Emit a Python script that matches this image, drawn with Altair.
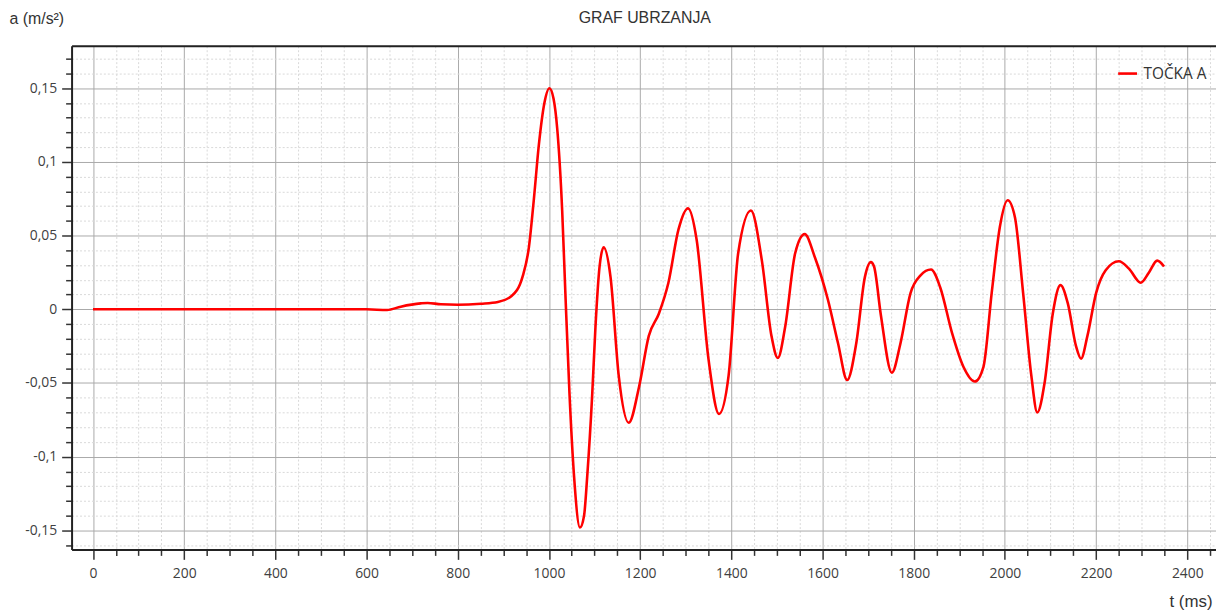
import altair as alt
import pandas as pd

# time (ms) and acceleration (m/s^2)
t_ms = [0, 300, 600, 645, 675, 719, 734, 763, 800, 851, 888, 918, 942, 956, 967, 978,
        990, 1001, 1010, 1018, 1029, 1036, 1045, 1055, 1068, 1077, 1084, 1095, 1102,
        1111, 1120, 1135, 1153, 1175, 1198, 1219, 1241, 1262, 1284, 1305, 1324, 1350,
        1373, 1394, 1415, 1443, 1467, 1488, 1502, 1518, 1540, 1561, 1583, 1612, 1634,
        1654, 1674, 1693, 1706, 1713, 1728, 1752, 1771, 1793, 1815, 1838, 1858, 1884,
        1909, 1934, 1953, 1971, 1989, 2006, 2022, 2040, 2058, 2071, 2087, 2105, 2122,
        2138, 2156, 2167, 2181, 2200, 2221, 2250, 2272, 2298, 2316, 2334, 2349]
acc = [0.0, 0.0, 0.0, -0.0005, 0.0018, 0.004, 0.0043, 0.0034, 0.0031, 0.0038, 0.005,
       0.009, 0.022, 0.042, 0.075, 0.112, 0.140, 0.150, 0.143, 0.123, 0.067, 0.011,
       -0.057, -0.113, -0.148, -0.140, -0.113, -0.057, -0.012, 0.029, 0.042, 0.022,
       -0.045, -0.077, -0.052, -0.018, -0.003, 0.018, 0.054, 0.0685, 0.047, -0.034,
       -0.071, -0.045, 0.038, 0.067, 0.033, -0.018, -0.033, -0.012, 0.038, 0.051,
       0.0355, 0.0063, -0.023, -0.048, -0.023, 0.022, 0.032, 0.029, -0.004, -0.043,
       -0.023, 0.011, 0.023, 0.027, 0.015, -0.016, -0.039, -0.049, -0.039, 0.011,
       0.056, 0.074, 0.0625, 0.011, -0.045, -0.070, -0.050, -0.003, 0.0164, 0.004,
       -0.025, -0.0335, -0.018, 0.011, 0.0265, 0.0326, 0.0276, 0.018, 0.025, 0.033,
       0.029]
series_name = "TOČKA A"

# axis tick positions (major every 200 ms / 0.05, minor every 50 ms / 0.01)
x_ticks = [i * 50 for i in range(0, 50)]
y_ticks = [round(i * 0.01, 2) for i in range(-16, 18)]

df = pd.DataFrame({"t": t_ms, "a": acc, "s": [series_name] * len(t_ms)})

FONT = "Open Sans"
TITLE_FONT = "Liberation Sans"

x_major = "datum.value % 200 === 0"
y_major = "abs(round(datum.value * 100)) % 5 === 0"

x_axis = alt.Axis(
    values=x_ticks,
    tickCount=500,
    grid=True,
    labelExpr=f"{x_major} ? toString(datum.value) : ''",
    tickSize={"condition": {"test": x_major, "value": 10}, "value": 6},
    gridColor={"condition": {"test": x_major, "value": "#a9a9a9"}, "value": "#d9d9d9"},
    gridDash={"condition": {"test": x_major, "value": []}, "value": [2, 2]},
    gridWidth=1,
    domainColor="#222222",
    domainWidth=2,
    tickColor="#333333",
    tickWidth=1.5,
    labelFont=FONT,
    labelFontSize=14,
    labelColor="#404040",
    labelPadding=7,
    labelFlush=False,
    labelOverlap=False,
    title="t (ms)",
    titleFont=TITLE_FONT,
    titleFontSize=17,
    titleFontWeight="normal",
    titleColor="#333333",
    titleAlign="right",
    titleAnchor="end",
    titleX=1148,
    titleY=52,
    titleBaseline="middle",
)

y_axis = alt.Axis(
    values=y_ticks,
    tickCount=500,
    grid=True,
    labelExpr=f"{y_major} ? replace(toString(datum.value), '.', ',') : ''",
    tickSize={"condition": {"test": y_major, "value": 10}, "value": 6},
    gridColor={"condition": {"test": y_major, "value": "#a9a9a9"}, "value": "#d9d9d9"},
    gridDash={"condition": {"test": y_major, "value": []}, "value": [2, 2]},
    gridWidth=1,
    domainColor="#222222",
    domainWidth=2,
    tickColor="#333333",
    tickWidth=1.5,
    labelFont=FONT,
    labelFontSize=14,
    labelColor="#404040",
    labelPadding=5,
    labelFlush=False,
    labelOverlap=False,
    title="a (m/s²)",
    titleFont=TITLE_FONT,
    titleFontSize=16,
    titleFontWeight="normal",
    titleColor="#333333",
    titleAngle=0,
    titleAlign="left",
    titleX=-63,
    titleY=-27,
    titleBaseline="middle",
)

xscale = alt.Scale(domain=[-47, 2463], nice=False, zero=False)
yscale = alt.Scale(domain=[-0.1629, 0.1788], nice=False, zero=False)

line = alt.Chart(df).mark_line(
    strokeWidth=2.6, interpolate="monotone", clip=True
).encode(
    x=alt.X("t:Q", scale=xscale, axis=x_axis),
    y=alt.Y("a:Q", scale=yscale, axis=y_axis),
    color=alt.Color(
        "s:N",
        scale=alt.Scale(domain=[series_name], range=["#ff0000"]),
        legend=alt.Legend(
            title=None,
            orient="none",
            legendX=1052,
            legendY=17,
            symbolType="stroke",
            symbolStrokeWidth=2.6,
            symbolSize=360,
            labelFont=FONT,
            labelFontSize=15.5,
            labelColor="#333333",
            labelOffset=5,
        ),
    ),
)

# top border drawn as a secondary x axis on top
top = alt.Chart(df).mark_line(opacity=0).encode(
    x=alt.X("t:Q", scale=xscale,
            axis=alt.Axis(orient="top", labels=False, ticks=False, grid=False,
                          domainColor="#222222", domainWidth=2, title=None)),
    y=alt.Y("a:Q", scale=yscale, axis=y_axis),
)

chart = alt.layer(line, top).resolve_axis(x="independent").properties(
    width=1152,
    height=507,
    padding={"left": 64, "top": 36, "right": 0, "bottom": 62},
    autosize=alt.AutoSizeParams(type="none"),
    title=alt.TitleParams(
        "GRAF UBRZANJA",
        anchor="middle",
        offset=18,
        dy=33,
        fontSize=16,
        font=TITLE_FONT,
        fontWeight="normal",
        color="#333333",
        dx=1,
    ),
).configure_view(stroke=None).configure(background="white")

chart.save("out.html", embed_options={"renderer": "svg", "actions": False})
